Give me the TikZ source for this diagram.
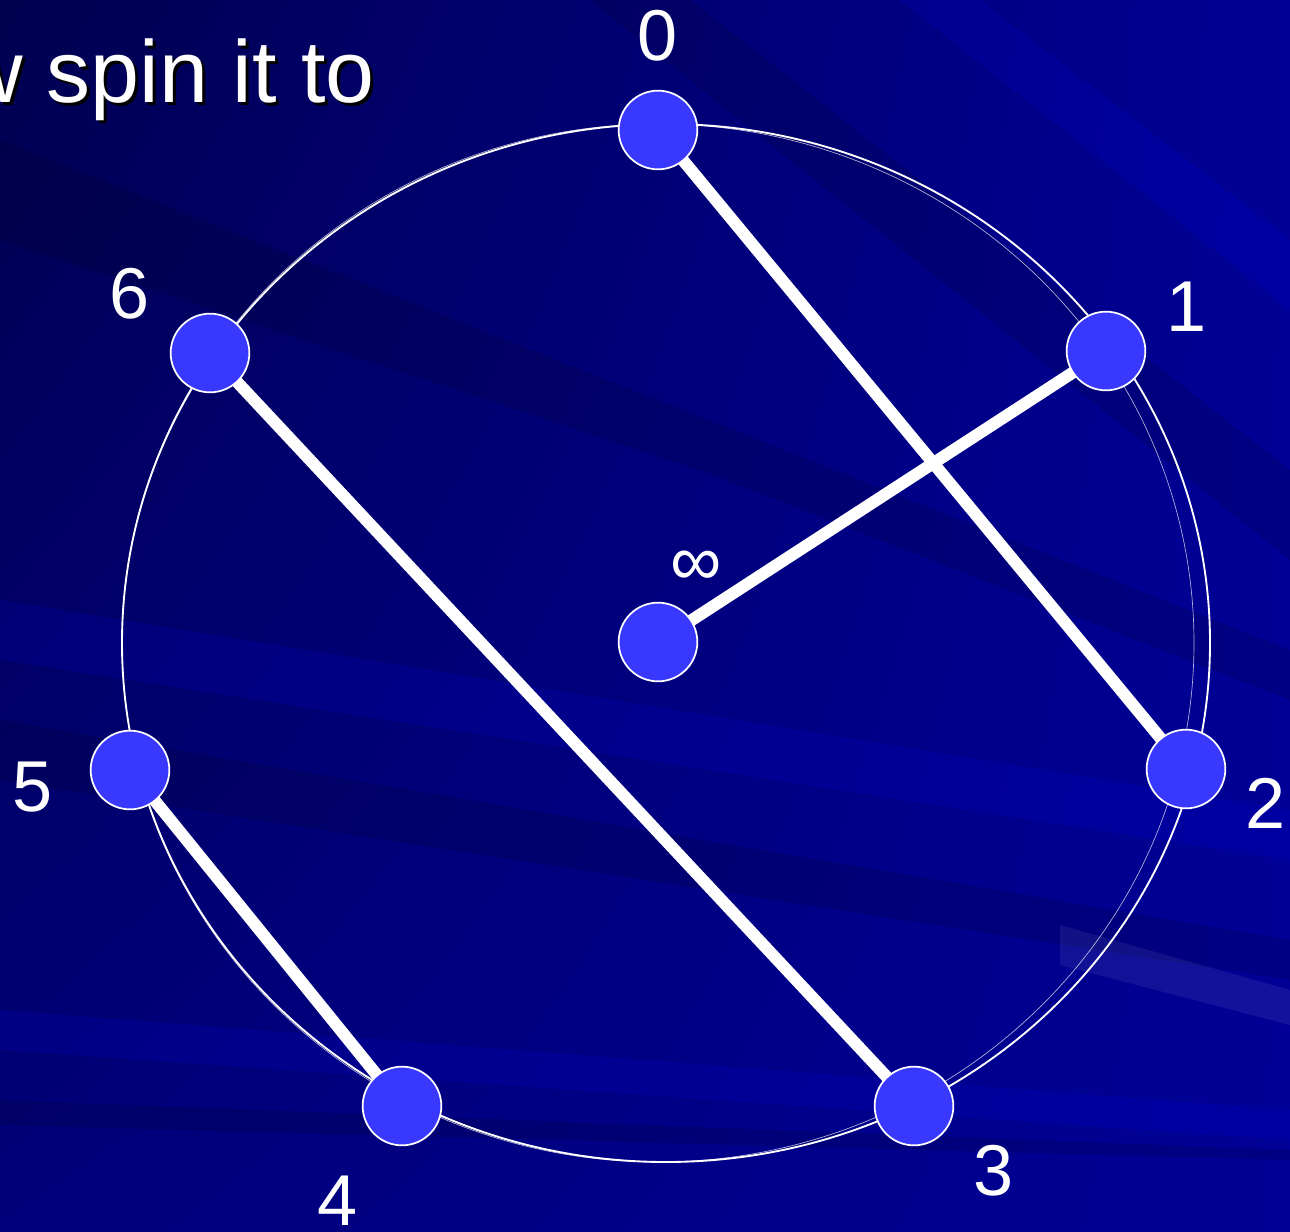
\documentclass[tikz,border=0pt]{standalone}
\usepackage{fontspec}
\setmainfont{Liberation Sans}
\usetikzlibrary{shadings}
\definecolor{navydark}{RGB}{0,0,80}
\definecolor{navymid}{RGB}{0,0,122}
\definecolor{navylight}{RGB}{0,0,150}
\definecolor{dotblue}{RGB}{56,56,255}
\pgfdeclarelayer{back}
\pgfdeclarelayer{chords}
\pgfsetlayers{back,chords,main}
\begin{document}
\begin{tikzpicture}[x=0.75pt,y=-0.75pt,
  vertex/.style={circle,draw=white,line width=1.3pt,fill=dotblue,minimum size=59pt,inner sep=0pt},
  lbl/.style={text=white,font=\fontsize{54}{60}\selectfont,inner sep=0pt},
  chord/.style={draw=white,line width=9pt},
  streak/.style={fill=#1,opacity=0.12}]
\useasboundingbox (0,0) rectangle (1290,1232);
\begin{pgfonlayer}{back}
  \shade[upper left=navydark,upper right=navylight,lower left=navymid,lower right=navylight]
    (0,0) rectangle (1290,1232);
  % rays of the slide background
  \fill[streak=black] (590,0) -- (690,0) -- (1290,470) -- (1290,560) -- cycle;
  \fill[streak=black] (0,140) -- (0,240) -- (700,470) -- (1290,700) -- (1290,650) -- cycle;
  \fill[streak=blue] (0,600) -- (0,660) -- (1290,860) -- (1290,810) -- cycle;
  \fill[streak=black] (0,720) -- (0,780) -- (1290,980) -- (1290,940) -- cycle;
  \fill[streak=blue] (0,1010) -- (0,1050) -- (1290,1140) -- (1290,1110) -- cycle;
  \fill[streak=black] (0,1100) -- (0,1125) -- (1290,1160) -- (1290,1150) -- cycle;
  \fill[streak=white,opacity=0.07] (1060,925) -- (1290,990) -- (1290,1025) -- (1060,965) -- cycle;
  \fill[streak=blue] (900,0) -- (980,0) -- (1290,240) -- (1290,310) -- cycle;
  % the two rings
  \draw[white,line width=1.4pt] (666,643) ellipse (544 and 519);
  \draw[white,line width=0.5pt,opacity=0.7] (658,643) ellipse (536 and 519);
\end{pgfonlayer}
\node[lbl,font=\fontsize{66}{72}\selectfont,text=black,anchor=base east] at (378,105) {w spin it to};
\node[lbl,font=\fontsize{66}{72}\selectfont,anchor=base east] (title) at (375,102) {w spin it to};
\foreach \n/\x/\y/\lx/\ly in {0/658/130/658/36,1/1106/351/1187/307,2/1186/769/1266/803,
  3/914/1106/994/1171,4/402/1106/338/1201,5/130/770/33/787,6/210/353/130/294}
{
  \node[vertex] (v\n) at (\x,\y) {};
  \node[lbl] (l\n) at (\lx,\ly) {\n};
}
\node[vertex] (vinf) at (658,642) {};
\node[lbl] (linf) at (696,568) {∞};
\begin{pgfonlayer}{chords}
  \draw[chord] (v0.center) -- (v2.center);
  \draw[chord] (v1.center) -- (vinf.center);
  \draw[chord] (v6.center) -- (v3.center);
  \draw[chord] (v5.center) -- (v4.center);
\end{pgfonlayer}
\end{tikzpicture}
\end{document}
